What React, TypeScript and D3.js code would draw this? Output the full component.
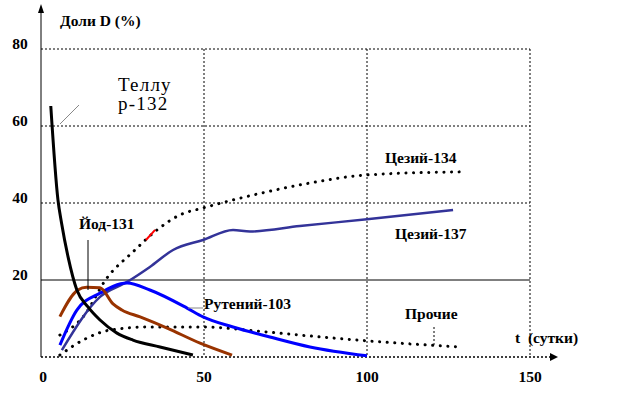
import React from 'react';
import * as d3 from 'd3';

type Pt = [number, number];

// t (days), share D (%)
const tellurium132: Pt[] = [
  [3.0, 65.2], [5.2, 40.8], [6.3, 34.8], [8.3, 26], [11, 17.4], [14.4, 13],
  [18.1, 9.6], [23.3, 6.2], [28.2, 4.4], [36.5, 2.6], [46.6, 0.5],
];
const iodine131: Pt[] = [
  [5.8, 10.5], [11.3, 17.4], [14, 18.1], [18.1, 18.0], [22.1, 13.8], [24.8, 12.2],
  [30.4, 10.4], [38.7, 7.5], [48.8, 3.6], [58.6, 0.5],
];
const ruthenium103: Pt[] = [
  [5.8, 3.1], [11, 12.2], [18.1, 16.6], [26.4, 19.2], [33.4, 17.4], [44.8, 12.7],
  [49.7, 10.4], [58.9, 7.8], [70.2, 5.2], [82.5, 2.6], [100, 0.3],
];
const cesium137: Pt[] = [
  [6.4, 1.8], [18.1, 15.6], [26.4, 19.5], [33.4, 23.4], [40.5, 27.8], [49.7, 30.4],
  [58.9, 33], [64.1, 32.6], [79.4, 34], [100, 35.8], [126.4, 38.2],
];
const cesium134: Pt[] = [
  [5.8, 5.7], [12.9, 10.4], [20.2, 20.5], [28.2, 27.3], [35.6, 33], [42.6, 36.9],
  [49.7, 38.7], [58.9, 40.8], [69.3, 42.9], [82.5, 45.2], [100, 47.3], [129.4, 48.1],
];
const others: Pt[] = [
  [5.8, 0.5], [12.9, 4.4], [21.2, 7], [33.4, 7.8], [48.8, 7.8], [69.3, 6.5],
  [79.4, 5.7], [100, 4.2], [128.5, 2.6],
];
const redMark: Pt[] = [[32.2, 30.4], [35.0, 33.0]];

const yTicks = [20, 40, 60, 80];
const xTicks = [0, 50, 100, 150];
const solidGridY = [20];

const W = 619;
const H = 393;
const bold = { fontFamily: '"Liberation Serif", serif', fontWeight: 700, fontSize: 15.5 };
const plain = { fontFamily: '"Liberation Serif", serif', fontSize: 19, letterSpacing: 1.2 };

export default function App() {
  const x = d3.scaleLinear().domain([0, 150]).range([41, 530]);
  const y = d3.scaleLinear().domain([0, 80]).range([357, 49]);
  const line = d3
    .line<Pt>()
    .x((d) => x(d[0]))
    .y((d) => y(d[1]))
    .curve(d3.curveMonotoneX);

  const dotted = { strokeDasharray: '0.1 7.5', strokeLinecap: 'round' as const, strokeWidth: 3 };

  return (
    <svg width={W} height={H} style={{ position: 'absolute', left: 0, top: 0, background: '#fff' }}>
      {/* grid */}
      {yTicks.map((v) => (
        <line
          key={'gy' + v}
          x1={x(0)}
          x2={x(150)}
          y1={y(v)}
          y2={y(v)}
          stroke="#000"
          strokeWidth={1}
          strokeDasharray={solidGridY.includes(v) ? undefined : '2 2'}
        />
      ))}
      {xTicks.slice(1).map((v) => (
        <line
          key={'gx' + v}
          x1={x(v)}
          x2={x(v)}
          y1={y(80)}
          y2={y(0)}
          stroke="#000"
          strokeWidth={1}
          strokeDasharray="2 2"
        />
      ))}

      {/* axes */}
      <line x1={x(0)} x2={x(0)} y1={y(0)} y2={10} stroke="#000" strokeWidth={1} />
      <path d={`M${x(0)},4 L${x(0) - 3},13 L${x(0) + 3},13 Z`} fill="#000" />
      <line x1={x(0)} x2={550} y1={y(0)} y2={y(0)} stroke="#000" strokeWidth={1.5} strokeDasharray="2 2" />
      <path d={`M558,${y(0)} L550,${y(0) - 4} L550,${y(0) + 4} Z`} fill="#000" />

      {yTicks.map((v) => (
        <text key={'ty' + v} x={20} y={y(v)} textAnchor="middle" style={bold}>
          {v}
        </text>
      ))}
      {xTicks.map((v) => (
        <text key={'tx' + v} x={x(v) + (v === 0 ? 2 : 0)} y={382} textAnchor="middle" style={bold}>
          {v}
        </text>
      ))}
      <text x={60} y={26} style={bold}>Доли D (%)</text>
      <text x={515} y={343} style={bold} xmlSpace="preserve">t  (сутки)</text>

      {/* series */}
      <path d={line(cesium134) ?? ''} fill="none" stroke="#000" {...dotted} />
      <path d={line(others) ?? ''} fill="none" stroke="#000" {...dotted} />
      <path d={line(cesium137) ?? ''} fill="none" stroke="#333399" strokeWidth={2.5} />
      <path d={line(ruthenium103) ?? ''} fill="none" stroke="#0000ff" strokeWidth={3} />
      <path d={line(iodine131) ?? ''} fill="none" stroke="#993300" strokeWidth={3} />
      <path d={line(tellurium132) ?? ''} fill="none" stroke="#000" strokeWidth={3} />
      <path d={line(redMark) ?? ''} fill="none" stroke="#ff0000" strokeWidth={2} />

      {/* annotations */}
      <line x1={60} y1={124} x2={79} y2={105} stroke="#888" strokeWidth={1} />
      <text x={118} y={91} style={plain}>Теллу</text>
      <text x={118} y={110} style={plain}>р-132</text>

      <line x1={88} y1={240} x2={88} y2={290} stroke="#000" strokeWidth={1} />
      <text x={79} y={229} style={bold}>Йод-131</text>

      <line x1={188} y1={308} x2={203} y2={308} stroke="#888" strokeWidth={1} />
      <text x={204} y={309} style={bold}>Рутений-103</text>

      <text x={385} y={163} style={bold}>Цезий-134</text>
      <text x={395} y={239} style={bold}>Цезий-137</text>

      <line x1={434} y1={327} x2={434} y2={345} stroke="#000" strokeWidth={1} strokeDasharray="2 2" />
      <text x={405} y={319} style={bold}>Прочие</text>
    </svg>
  );
}
